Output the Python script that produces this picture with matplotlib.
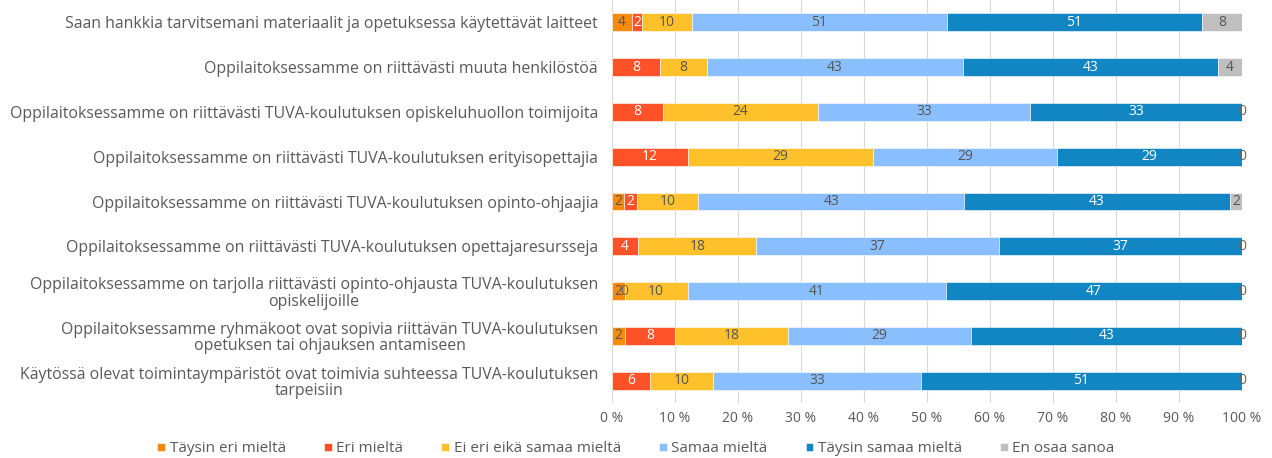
import matplotlib
matplotlib.use("Agg")
import matplotlib.pyplot as plt
import numpy as np

categories = [
    "Saan hankkia tarvitsemani materiaalit ja opetuksessa käytettävät laitteet",
    "Oppilaitoksessamme on riittävästi muuta henkilöstöä",
    "Oppilaitoksessamme on riittävästi TUVA-koulutuksen opiskeluhuollon toimijoita",
    "Oppilaitoksessamme on riittävästi TUVA-koulutuksen erityisopettajia",
    "Oppilaitoksessamme on riittävästi TUVA-koulutuksen opinto-ohjaajia",
    "Oppilaitoksessamme on riittävästi TUVA-koulutuksen opettajaresursseja",
    "Oppilaitoksessamme on tarjolla riittävästi opinto-ohjausta TUVA-koulutuksen\nopiskelijoille",
    "Oppilaitoksessamme ryhmäkoot ovat sopivia riittävän TUVA-koulutuksen\nopetuksen tai ohjauksen antamiseen",
    "Käytössä olevat toimintaympäristöt ovat toimivia suhteessa TUVA-koulutuksen\ntarpeisiin",
]
series_names = ["Täysin eri mieltä", "Eri mieltä", "Ei eri eikä samaa mieltä",
                "Samaa mieltä", "Täysin samaa mieltä", "En osaa sanoa"]
tays_eri = [4, None, None, None, 2, None, 2, 2, None]
eri = [2, 8, 8, 12, 2, 4, 0, 8, 6]
ei_eri_eika = [10, 8, 24, 29, 10, 18, 10, 18, 10]
samaa = [51, 43, 33, 29, 43, 37, 41, 29, 33]
tays_samaa = [51, 43, 33, 29, 43, 37, 47, 43, 51]
en_osaa = [8, 4, 0, 0, 2, 0, 0, 0, 0]

colors = ["#F98A0C", "#FF5229", "#FFC12B", "#8ABFFF", "#1186C3", "#BFBFBF"]
label_colors = ["#555555", "#FFFFFF", "#555555", "#555555", "#FFFFFF", "#555555"]

series = [tays_eri, eri, ei_eri_eika, samaa, tays_samaa, en_osaa]
data = np.array([[0 if v is None else v for v in s] for s in series], dtype=float)
totals = data.sum(axis=0)
pct = data / totals * 100

plt.rcParams['font.family'] = ['Open Sans', 'DejaVu Sans']
fig = plt.figure(figsize=(12.72, 4.58), dpi=100)
ax = fig.add_axes([612/1272, 1 - 403/458, 630/1272, 403/458])

y = np.arange(len(categories))
left = np.zeros(len(categories))
for i, name in enumerate(series_names):
    ax.barh(y, pct[i], left=left, height=0.4, color=colors[i], label=name,
            edgecolor="white", linewidth=0.4, zorder=3)
    for j in range(len(categories)):
        v = series[i][j]
        if v is None:
            continue
        cx = left[j] + pct[i][j] / 2
        col = label_colors[i]
        if pct[i][j] == 0:
            col = "#666666"
        ax.text(cx, y[j], str(v), ha="center", va="center", fontsize=10,
                color=col, zorder=4)
    left += pct[i]

ax.set_xlim(0, 100)
ax.set_ylim(len(categories) - 0.5, -0.5)
ax.set_xticks(np.arange(0, 101, 10))
ax.set_xticklabels([f"{t} %" for t in range(0, 101, 10)], fontsize=10, color="#595959")
ax.set_yticks(y)
ax.set_yticklabels(categories, fontsize=11.4, color="#595959")
for lab in ax.get_yticklabels():
    lab.set_multialignment("center")
    lab.set_linespacing(1.05)
ax.tick_params(axis="both", length=0)
ax.tick_params(axis="y", pad=10)
ax.tick_params(axis="x", pad=6)
ax.grid(axis="x", color="#D9D9D9", linewidth=0.8, zorder=0)
for s in ax.spines.values():
    s.set_visible(False)

handles, labels = ax.get_legend_handles_labels()
leg = fig.legend(handles, labels, loc="center", bbox_to_anchor=(636/1272, 1 - 449/458),
                 ncol=6, frameon=False, fontsize=11, handlelength=0.5, handleheight=0.5,
                 handletextpad=0.3, columnspacing=2.5)
for t in leg.get_texts():
    t.set_color("#595959")

fig.savefig("out.png", dpi=100)
